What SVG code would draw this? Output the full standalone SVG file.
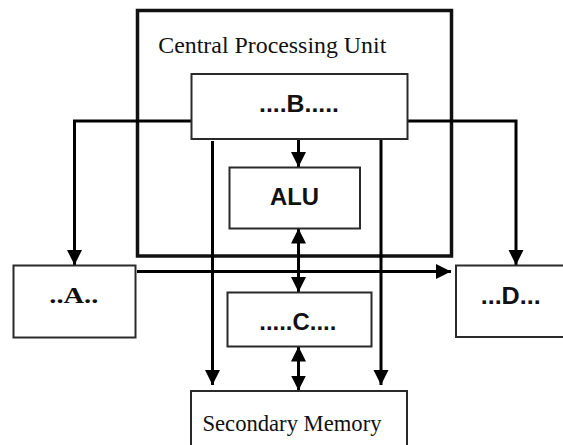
<svg xmlns="http://www.w3.org/2000/svg" width="563" height="445" viewBox="0 0 563 445">
  <defs>
    <marker id="arr" markerUnits="userSpaceOnUse" markerWidth="16" markerHeight="16" refX="15" refY="7.5" orient="auto">
      <path d="M0,0 L15,7.5 L0,15 z" fill="#000"/>
    </marker>
    <marker id="arrs" markerUnits="userSpaceOnUse" markerWidth="16" markerHeight="16" refX="15" refY="7.5" orient="auto-start-reverse">
      <path d="M0,0 L15,7.5 L0,15 z" fill="#000"/>
    </marker>
  </defs>
  <style>
    .box { fill: #fff; stroke: #2a2a2a; stroke-width: 2; }
    .cpu { fill: none; stroke: #111; stroke-width: 3.5; }
    .con { fill: none; stroke: #000; stroke-width: 3; }
    .lbl { font-family: "Liberation Sans", Arial, sans-serif; font-weight: bold; font-size: 24px; fill: #111; }
    .ser { font-family: "Liberation Serif", "Times New Roman", serif; font-size: 24px; fill: #111; }
  </style>
  <rect x="0" y="0" width="563" height="445" fill="#fff"/>

  <g id="cpu">
    <rect class="cpu" x="137.5" y="10.5" width="314" height="245.5"/>
    <text class="ser" x="158.3" y="53" textLength="228" lengthAdjust="spacingAndGlyphs">Central Processing Unit</text>
  </g>

  <g id="connectors">
    <polyline class="con" points="191,121 74.5,121 74.5,265" marker-end="url(#arr)"/>
    <polyline class="con" points="407.5,121 516,121 516,265" marker-end="url(#arr)"/>
    <line class="con" x1="298.5" y1="139" x2="298.5" y2="167" marker-end="url(#arr)"/>
    <line class="con" x1="298.5" y1="228.5" x2="298.5" y2="292" marker-start="url(#arrs)" marker-end="url(#arrs)"/>
    <line class="con" x1="298.5" y1="346.5" x2="298.5" y2="390.5" marker-start="url(#arrs)" marker-end="url(#arrs)"/>
    <line class="con" x1="212.5" y1="141" x2="212.5" y2="385" marker-end="url(#arr)"/>
    <line class="con" x1="381" y1="140" x2="381" y2="385" marker-end="url(#arr)"/>
    <line class="con" x1="137" y1="271.5" x2="451" y2="271.5" marker-end="url(#arr)"/>
  </g>

  <g id="B">
    <rect class="box" x="191.5" y="74" width="216" height="65"/>
    <text class="lbl" x="259" y="111.7" textLength="80" lengthAdjust="spacingAndGlyphs">....B.....</text>
  </g>

  <g id="ALU">
    <rect class="box" x="229.5" y="167.5" width="130.5" height="61"/>
    <text class="lbl" x="270" y="205" textLength="49" lengthAdjust="spacingAndGlyphs">ALU</text>
  </g>

  <g id="A">
    <rect class="box" x="13.5" y="265.5" width="122" height="72"/>
    <text class="ser" style="font-weight:bold" x="49.3" y="303.3" textLength="49" lengthAdjust="spacingAndGlyphs">..A..</text>
  </g>

  <g id="C">
    <rect class="box" x="227.5" y="292.5" width="144" height="54"/>
    <text class="lbl" x="259.3" y="330" textLength="77" lengthAdjust="spacingAndGlyphs">.....C....</text>
  </g>

  <g id="D">
    <rect class="box" x="456" y="265.5" width="110" height="71.5"/>
    <text class="lbl" x="480.7" y="304.3" textLength="60" lengthAdjust="spacingAndGlyphs">...D...</text>
  </g>

  <g id="secondary-memory">
    <rect class="box" x="191" y="391" width="216" height="60"/>
    <text class="ser" x="202.5" y="430.7" textLength="179" lengthAdjust="spacingAndGlyphs">Secondary Memory</text>
  </g>
</svg>
